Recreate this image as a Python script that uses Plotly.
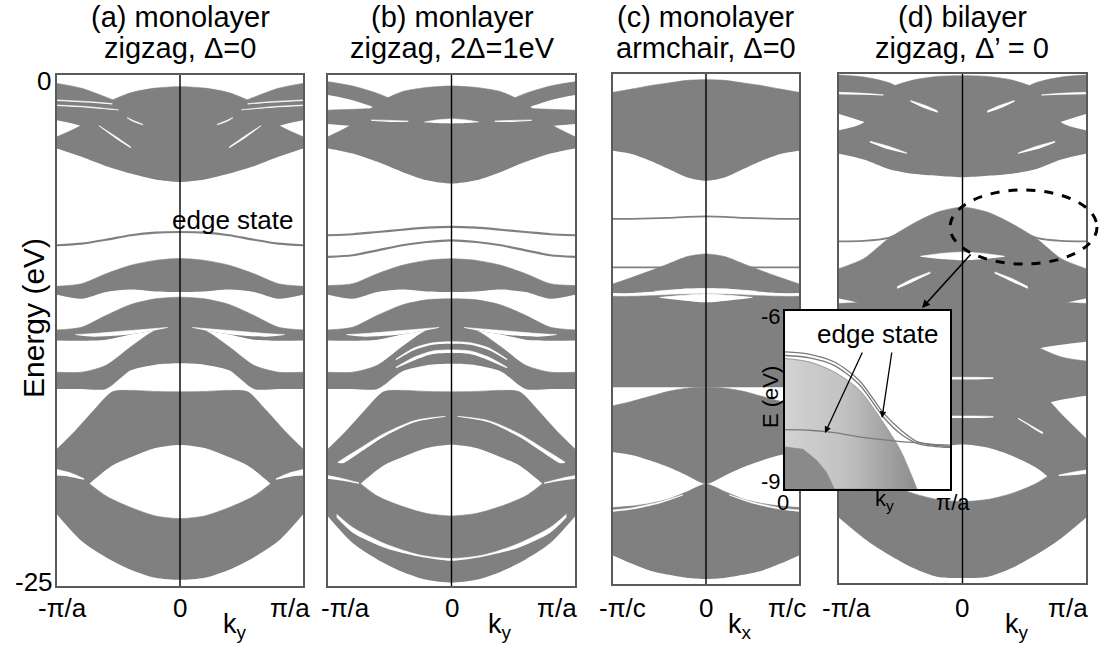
import plotly.graph_objects as go

W, H = 1100, 649
GRAY = '#808080'
WHITE = '#ffffff'
FONT = 'Liberation Sans, Arial, sans-serif'
SMOOTH = 0.75

# k sample points (fraction of the zone edge), values mirrored to negative k
F6 = [0, 0.2, 0.4, 0.6, 0.8, 1.0]
FV = [0, 0.2, 0.4, 0.55, 0.7, 0.85, 1.0]

# ---------------- panel (a) monolayer zigzag, Delta=0 ----------------
A_T1_HI = [-0.57, -0.64, -0.87, -1.39, -2.45, -3.02]
A_T1_LO = [-5.23, -5.11, -4.82, -4.46, -4.0, -3.59]
A_T2_HI = [-1.96, -1.88, -1.55, -1.09, -0.65, -0.41]
A_T2_LO = [-4.08, -4.0, -3.68, -3.19, -2.5, -2.21]
A_EDGE = [-7.68, -7.71, -7.84, -8.06, -8.25, -8.33]
A_B2_HI = [-8.98, -9.07, -9.31, -9.72, -10.21, -10.34]
A_B2_LO = [-10.62, -10.59, -10.5, -10.62, -10.95, -10.75]
A_B3_HI = [-10.87, -10.95, -11.23, -11.76, -12.34, -12.47]
A_B3_LO = [-12.4, -12.5, -12.7, -12.95, -13.0, -12.99]
A_BELL_HI = [-12.34, -12.5, -13.3, -14.2, -14.54, -14.54]
A_BELL_LO = [-14.1, -14.17, -14.45, -15.36, -15.36, -15.36]
A_V_HI = [-15.5, -15.48, -15.43, -15.5, -16.4, -17.4, -18.3]
A_V_LO = [-18.1, -18.25, -18.7, -19.1, -19.8, -20.6, -21.2]
A_B6_HI = [-21.7, -21.57, -21.16, -20.6, -19.7, -18.87]
A_B6_LO = [-24.7, -24.6, -24.2, -23.6, -22.8, -21.5]
A_GAPS = [
    ([0.1, 0.3, 0.5, 0.7, 0.85], [-12.35, -12.45, -12.55, -12.65, -12.7], [-12.37, -12.6, -12.75, -12.8, -12.72]),
    ([0.4, 0.52, 0.66], [-3.52, -3.02, -2.47], [-3.58, -3.12, -2.5]),
    ([0.78, 0.9, 1.0], [-19.75, -19.45, -19.3], [-19.8, -19.65, -19.6]),
    ([0.55, 0.75, 1.0], [-1.4, -1.3, -1.22], [-1.44, -1.35, -1.27]),
    ([0.5, 0.75, 1.0], [-1.7, -1.55, -1.47], [-1.73, -1.6, -1.52]),
    ([0.3, 0.37, 0.43], [-2.42, -2.25, -2.08], [-2.46, -2.31, -2.11]),
]

# ---------------- panel (b) monolayer zigzag, 2Delta=1eV ----------------
B_T1_HI = [-0.54, -0.61, -0.82, -1.39, -2.4, -3.02]
B_T1_LO = [-5.31, -5.15, -4.74, -4.25, -3.84, -3.59]
B_B1_HI = [-1.8, -1.72, -1.39, -0.9, -0.54, -0.33]
B_B1_LO = [-2.61, -2.53, -2.21, -1.64, -1.23, -0.98]
B_B2_HI = [-1.8, -1.75, -1.68, -1.64, -1.68, -1.72]
B_B2_LO = [-2.9, -2.85, -2.75, -2.6, -2.5, -2.4]
B_EDGE1 = [-7.43, -7.47, -7.57, -7.68, -7.79, -7.84]
B_EDGE2 = [-8.09, -8.17, -8.33, -8.58, -8.82, -8.9]
B_B3_HI = [-8.99, -9.07, -9.31, -9.72, -10.21, -10.3]
B_B3_LO = [-10.62, -10.59, -10.5, -10.62, -10.95, -10.75]
B_B4_HI = [-10.95, -11.0, -11.25, -11.76, -12.34, -12.47]
B_B4_LO = [-12.4, -12.5, -12.7, -12.95, -13.0, -12.99]
B_BELL_HI = [-12.34, -12.5, -13.3, -14.2, -14.54, -14.54]
B_BELL_LO = [-14.13, -14.2, -14.5, -15.36, -15.36, -15.36]
B_V_HI = [-15.5, -15.48, -15.43, -15.5, -16.4, -17.4, -18.3]
B_V_LO = [-18.09, -18.25, -18.7, -19.1, -19.8, -20.6, -21.2]
B_B6_HI = [-21.57, -21.45, -21.1, -20.6, -19.7, -18.87]
B_B6_LO = [-24.84, -24.7, -24.3, -23.7, -22.9, -21.6]
B_GAPS = [
    ([0, 0.12, 0.22], [-2.15, -2.2, -2.3], [-2.37, -2.35, -2.31]),
    ([0, 0.15, 0.3, 0.45], [-13.05, -13.1, -13.35, -13.9], [-13.15, -13.2, -13.45, -13.95]),
    ([0, 0.15, 0.3, 0.45], [-13.45, -13.5, -13.8, -14.3], [-13.6, -13.65, -13.95, -14.35]),
    ([0.05, 0.3, 0.55, 0.75, 0.88, 0.92], [-16.7, -16.91, -17.56, -18.3, -18.79, -18.95],
     [-16.72, -16.99, -17.71, -18.5, -18.99, -18.97]),
    ([0, 0.26, 0.53, 0.8, 0.93], [-23.66, -23.48, -22.96, -22.14, -21.49],
     [-23.77, -23.56, -23.15, -22.39, -21.65]),
    ([0.75, 0.88, 1.0], [-19.95, -19.75, -19.6], [-20.0, -19.85, -19.75]),
    ([0.1, 0.3, 0.5, 0.7, 0.85], [-12.35, -12.45, -12.55, -12.65, -12.7], [-12.37, -12.6, -12.75, -12.8, -12.72]),
    ([0.35, 0.5, 0.65], [-2.25, -2.22, -2.2], [-2.29, -2.3, -2.24]),
]

# ---------------- panel (c) monolayer armchair, Delta=0 ----------------
C_TOP_HI = [-0.28, -0.31, -0.44, -0.57, -0.74, -0.9]
C_TOP_LO = [-5.23, -5.07, -4.66, -4.25, -3.92, -3.76]
C_LINE1 = [-6.98, -7.0, -7.05, -7.08, -7.1, -7.1]
C_LINE2 = [-9.48, -9.48, -9.48, -9.48, -9.48, -9.48]
C_TENT_HI = [-8.82, -8.95, -9.3, -9.65, -9.98, -10.29]
C_TENT_LO = [-10.5, -10.52, -10.6, -10.68, -10.74, -10.74]
C_BLK_HI = [-10.78, -10.8, -10.83, -10.87, -10.9, -10.9]
C_BLK_LO = [-15.36, -15.36, -15.36, -15.36, -15.36, -15.36]
C_U_HI = [-15.36, -15.4, -15.55, -15.8, -16.05, -16.26]
C_U_LO = [-20.1, -19.69, -19.28, -18.95, -18.68, -18.54]
C_L_HI = [-20.1, -20.47, -20.83, -21.05, -21.18, -21.25]
C_L_LO = [-24.75, -24.7, -24.55, -24.35, -24.0, -23.6]
C_GAPS = [
    ([0, 0.25, 0.5], [-10.78, -10.85, -10.95], [-11.19, -11.1, -10.97]),
    ([0, 0.3, 0.55], [-10.53, -10.57, -10.65], [-10.61, -10.63, -10.68]),
    ([0.25, 0.5, 0.8, 1.0], [-20.62, -20.98, -21.27, -21.37], [-20.66, -21.05, -21.35, -21.46]),
]

# ---------------- panel (d) bilayer zigzag, Delta'=0 ----------------
D_T1_HI = [-0.08, -0.12, -0.3, -0.75, -2.4, -2.78]
D_T1_LO = [-5.07, -5.0, -4.9, -4.66, -4.2, -3.92]
D_T2_HI = [-1.7, -1.5, -1.0, -0.42, -0.15, -0.05]
D_T2_LO = [-4.0, -3.8, -3.4, -2.9, -2.35, -1.96]
D_EDGE_K = [0.5, 0.6, 0.8, 1.0]
D_EDGE = [-7.8, -8.05, -8.2, -8.22]
D_DOME_HI = [-6.54, -6.78, -7.35, -8.09, -9.07, -9.56]
D_DOME_LO = [-14.0, -13.5, -12.5, -11.8, -11.3, -11.03]
D_B3_HI = [-10.0, -10.3, -10.7, -11.0, -11.2, -11.27]
D_B3_LO = [-14.5, -14.3, -13.9, -13.5, -13.3, -13.15]
D_B4_HI = [-12.0, -12.3, -12.8, -13.4, -13.9, -14.1]
D_B4_LO = [-17.5, -17.3, -16.9, -16.3, -16.0, -15.8]
D_B5_HI = [-13.5, -14.0, -14.6, -15.4, -16.7, -17.9]
D_B5_LO = [-18.2, -18.35, -18.75, -19.35, -20.3, -21.0]
D_B6_HI = [-21.0, -20.9, -20.6, -20.1, -19.3, -18.6]
D_B6_LO = [-24.75, -24.7, -24.26, -23.6, -22.8, -21.8]
D_GAPS = [
    ([0.2, 0.3, 0.42], [-1.82, -1.55, -1.3], [-1.9, -1.7, -1.36]),
    ([0.45, 0.6, 0.75], [-3.88, -3.55, -3.3], [-3.92, -3.7, -3.36]),
    ([0.64, 0.8, 1.0], [-1.02, -0.95, -0.9], [-1.05, -1.02, -1.0]),
    ([0, 0.15, 0.34], [-8.75, -8.8, -8.95], [-9.15, -9.1, -8.97]),
    ([0.26, 0.4, 0.53], [-9.72, -10.05, -10.45], [-9.8, -10.2, -10.55]),
    ([0, 0.12, 0.25], [-14.9, -14.9, -14.92], [-15.0, -15.0, -14.97]),
    ([0, 0.12, 0.25], [-16.8, -16.8, -16.82], [-16.9, -16.9, -16.87]),
    ([0.45, 0.55, 0.65], [-16.9, -17.25, -17.6], [-16.95, -17.32, -17.7]),
    ([0.78, 0.9, 1.0], [-19.7, -19.55, -19.45], [-19.75, -19.7, -19.65]),
]

# ---------------- inset (bilayer edge states, 0..pi/a, -9..-6 eV) ----------------
IN_K = [0, 0.15, 0.3, 0.45, 0.6, 0.7, 0.8, 0.9, 1.0]
IN_EDGE1 = [-6.69, -6.73, -6.86, -7.17, -7.73, -8.0, -8.2, -8.26, -8.28]
IN_EDGE1B = [-6.75, -6.79, -6.92, -7.24, -7.8, -8.07, -8.23, -8.28, -8.3]
IN_EDGE2 = [-8.0, -8.01, -8.05, -8.12, -8.17, -8.2, -8.22, -8.25, -8.26]
IN_BULK_K = [0, 0.15, 0.3, 0.45, 0.6, 0.7, 0.8]
IN_BULK_TOP = [-6.80, -6.86, -7.03, -7.33, -7.9, -8.35, -9.0]
IN_PATCH_K = [0, 0.11, 0.19, 0.25, 0.3]
IN_PATCH_TOP = [-8.29, -8.33, -8.51, -8.71, -9.0]

# panel frames in pixels: (left, right, top, bottom)
PANELS = [(57, 303, 75, 586), (328, 575, 75, 586), (613, 799, 74, 584), (839, 1086, 74, 583)]
INSET = (785, 950, 311, 489)

fig = go.Figure()


def ax(i):
    return ('x' if i == 1 else 'x%d' % i), ('y' if i == 1 else 'y%d' % i)


def _pair(fig, i, xs, lo, hi, color):
    xa, ya = ax(i)
    fig.add_trace(go.Scatter(x=xs, y=lo, mode='lines', xaxis=xa, yaxis=ya,
                             line=dict(width=0, color=color, shape='spline', smoothing=SMOOTH),
                             hoverinfo='skip', showlegend=False))
    fig.add_trace(go.Scatter(x=xs, y=hi, mode='lines', xaxis=xa, yaxis=ya, fill='tonexty',
                             fillcolor=color,
                             line=dict(width=0.6, color=color, shape='spline', smoothing=SMOOTH),
                             hoverinfo='skip', showlegend=False))


def band(fig, i, ks, lo, hi, color=GRAY):
    if ks[0] == 0:
        xs = [-k for k in ks[::-1]] + list(ks[1:])
        _pair(fig, i, xs, lo[::-1] + lo[1:], hi[::-1] + hi[1:], color)
    else:
        _pair(fig, i, [-k for k in ks], lo, hi, color)
        _pair(fig, i, list(ks), lo, hi, color)


def line(fig, i, ks, es, color=GRAY, width=2.2):
    xa, ya = ax(i)
    if ks[0] == 0:
        xs = [-k for k in ks[::-1]] + list(ks[1:])
        ys = es[::-1] + es[1:]
        segs = [(xs, ys)]
    else:
        segs = [([-k for k in ks], es), (list(ks), es)]
    for xs, ys in segs:
        fig.add_trace(go.Scatter(x=xs, y=ys, mode='lines', xaxis=xa, yaxis=ya,
                                 line=dict(width=width, color=color, shape='spline', smoothing=SMOOTH),
                                 hoverinfo='skip', showlegend=False))


# (a)
for ks, lo, hi in [(F6, A_T1_LO, A_T1_HI), (F6, A_T2_LO, A_T2_HI), (F6, A_B2_LO, A_B2_HI),
                   (F6, A_B3_LO, A_B3_HI), (F6, A_BELL_LO, A_BELL_HI), (FV, A_V_LO, A_V_HI),
                   (F6, A_B6_LO, A_B6_HI)]:
    band(fig, 1, ks, lo, hi)
for ks, hi, lo in A_GAPS:
    band(fig, 1, ks, lo, hi, WHITE)
line(fig, 1, F6, A_EDGE)

# (b)
for ks, lo, hi in [(F6, B_T1_LO, B_T1_HI), (F6, B_B1_LO, B_B1_HI), (F6, B_B2_LO, B_B2_HI),
                   (F6, B_B3_LO, B_B3_HI), (F6, B_B4_LO, B_B4_HI), (F6, B_BELL_LO, B_BELL_HI),
                   (FV, B_V_LO, B_V_HI), (F6, B_B6_LO, B_B6_HI)]:
    band(fig, 2, ks, lo, hi)
for ks, hi, lo in B_GAPS:
    band(fig, 2, ks, lo, hi, WHITE)
line(fig, 2, F6, B_EDGE1)
line(fig, 2, F6, B_EDGE2)

# (c)
for lo, hi in [(C_TOP_LO, C_TOP_HI), (C_TENT_LO, C_TENT_HI), (C_BLK_LO, C_BLK_HI),
               (C_U_LO, C_U_HI), (C_L_LO, C_L_HI)]:
    band(fig, 3, F6, lo, hi)
for ks, hi, lo in C_GAPS:
    band(fig, 3, ks, lo, hi, WHITE)
line(fig, 3, F6, C_LINE1, width=1.8)
line(fig, 3, F6, C_LINE2, width=1.8)

# (d)
for lo, hi in [(D_T1_LO, D_T1_HI), (D_T2_LO, D_T2_HI), (D_DOME_LO, D_DOME_HI), (D_B3_LO, D_B3_HI),
               (D_B4_LO, D_B4_HI), (D_B5_LO, D_B5_HI), (D_B6_LO, D_B6_HI)]:
    band(fig, 4, F6, lo, hi)
for ks, hi, lo in D_GAPS:
    band(fig, 4, ks, lo, hi, WHITE)
line(fig, 4, D_EDGE_K, D_EDGE, width=1.8)

# centre line k=0 in each panel
for i in range(1, 5):
    xa, ya = ax(i)
    fig.add_trace(go.Scatter(x=[0, 0], y=[-25, 0], mode='lines', xaxis=xa, yaxis=ya,
                             line=dict(color='black', width=1.4), hoverinfo='skip', showlegend=False))

# inset
fig.add_trace(go.Scatter(x=[0, 1, 1, 0, 0], y=[-9, -9, -6, -6, -9], mode='lines', fill='toself',
                         fillcolor='white', line=dict(width=0, color='white'),
                         xaxis='x5', yaxis='y5', hoverinfo='skip', showlegend=False))
fig.add_trace(go.Scatter(x=IN_BULK_K + [0.8, 0], y=IN_BULK_TOP + [-9, -9], mode='lines', fill='toself',
                         fillgradient=dict(type='horizontal',
                                           colorscale=[[0, '#d2d2d2'], [0.45, '#c2c2c2'], [1, '#8c8c8c']]),
                         line=dict(width=1, color='#9a9a9a', shape='spline', smoothing=0.8),
                         xaxis='x5', yaxis='y5', hoverinfo='skip', showlegend=False))
fig.add_trace(go.Scatter(x=IN_PATCH_K + [0.3, 0], y=IN_PATCH_TOP + [-9, -9], mode='lines', fill='toself',
                         fillcolor='#8a8a8a', line=dict(width=0.5, color='#8a8a8a'),
                         xaxis='x5', yaxis='y5', hoverinfo='skip', showlegend=False))
for es in (IN_EDGE1, IN_EDGE1B, IN_EDGE2):
    fig.add_trace(go.Scatter(x=IN_K, y=es, mode='lines', xaxis='x5', yaxis='y5',
                             line=dict(color='#7a7a7a', width=1.3, shape='spline', smoothing=0.8),
                             hoverinfo='skip', showlegend=False))

layout_axes = {}
for i, (l, r, t, b) in enumerate(PANELS, start=1):
    xn = 'xaxis' if i == 1 else 'xaxis%d' % i
    yn = 'yaxis' if i == 1 else 'yaxis%d' % i
    xa, ya = ax(i)
    layout_axes[xn] = dict(domain=[l / W, r / W], range=[-1, 1], anchor=ya, showgrid=False,
                           zeroline=False, showticklabels=False, ticks='', showline=True,
                           mirror=True, linecolor='#5a5a5a', linewidth=1.5, fixedrange=True)
    layout_axes[yn] = dict(domain=[1 - b / H, 1 - t / H], range=[-25, 0], anchor=xa, showgrid=False,
                           zeroline=False, showticklabels=False, ticks='', showline=True,
                           mirror=True, linecolor='#5a5a5a', linewidth=1.5, fixedrange=True)
l, r, t, b = INSET
layout_axes['xaxis5'] = dict(domain=[l / W, r / W], range=[0, 1], anchor='y5', showgrid=False,
                             zeroline=False, showticklabels=False, ticks='', showline=True,
                             mirror=True, linecolor='black', linewidth=1.5)
layout_axes['yaxis5'] = dict(domain=[1 - b / H, 1 - t / H], range=[-9, -6], anchor='x5', showgrid=False,
                             zeroline=False, showticklabels=False, ticks='', showline=True,
                             mirror=True, linecolor='black', linewidth=1.5)


def P(x, y):
    return x / W, 1 - y / H


annots = []


def txt(s, x, y, size=27, angle=0, xanchor='center'):
    px, py = P(x, y)
    annots.append(dict(text=s, x=px, y=py, xref='paper', yref='paper', showarrow=False,
                       xanchor=xanchor, yanchor='middle', textangle=angle,
                       font=dict(family=FONT, size=size, color='black')))


TITLES = [("(a) monolayer", "zigzag, Δ=0", 180), ("(b) monlayer", "zigzag, 2Δ=1eV", 452),
          ("(c) monolayer", "armchair, Δ=0", 706), ("(d) bilayer", "zigzag, Δ’ = 0", 962)]
for t1, t2, cx in TITLES:
    txt(t1, cx, 17, 29)
    txt(t2, cx, 48, 29)

XTICKS = [("-π/a", 62, "0", 180, "π/a", 290, "k<sub>y</sub>", 235),
          ("-π/a", 345, "0", 452, "π/a", 557, "k<sub>y</sub>", 500),
          ("-π/c", 622, "0", 706, "π/c", 787, "k<sub>x</sub>", 740),
          ("-π/a", 846, "0", 962, "π/a", 1068, "k<sub>y</sub>", 1017)]
for lt, lx, zt, zx, rt, rx, kt, kx in XTICKS:
    txt(lt, lx, 608, 26)
    txt(zt, zx, 608, 26)
    txt(rt, rx, 608, 26)
    txt(kt, kx, 626, 27)

txt("0", 53, 81, 26, xanchor='right')
txt("-25", 55, 582, 26, xanchor='right')
txt("Energy (eV)", 33, 318, 30, angle=-90)
txt("edge state", 232, 220, 26)

# inset labels
txt("-6", 783, 316, 22, xanchor='right')
txt("-9", 783, 481, 22, xanchor='right')
txt("0", 783, 502, 22)
txt("k<sub>y</sub>", 884, 500, 22)
txt("π/a", 953, 502, 22)
txt("E (eV)", 770, 397, 22, angle=-90)
txt("edge state", 877, 334, 26)


def arrow(tx, ty, hx, hy, width=1.3, size=1.0):
    px, py = P(hx, hy)
    annots.append(dict(x=px, y=py, xref='paper', yref='paper', ax=tx - hx, ay=ty - hy,
                       axref='pixel', ayref='pixel', text='', showarrow=True, arrowhead=2,
                       arrowsize=size, arrowwidth=width, arrowcolor='black'))


arrow(863, 351, 825, 433)
arrow(892, 351, 882, 418)
arrow(972, 253, 922, 308, width=1.6)

x0, y1 = P(950, 190)
x1, y0 = P(1097, 264)
shapes = [dict(type='circle', xref='paper', yref='paper', x0=x0, x1=x1, y0=y0, y1=y1,
               line=dict(color='black', width=3, dash='dash'))]

fig.update_layout(width=W, height=H, margin=dict(l=0, r=0, t=0, b=0),
                  paper_bgcolor='white', plot_bgcolor='white', showlegend=False,
                  annotations=annots, shapes=shapes, **layout_axes)

fig.write_html("out.html")
